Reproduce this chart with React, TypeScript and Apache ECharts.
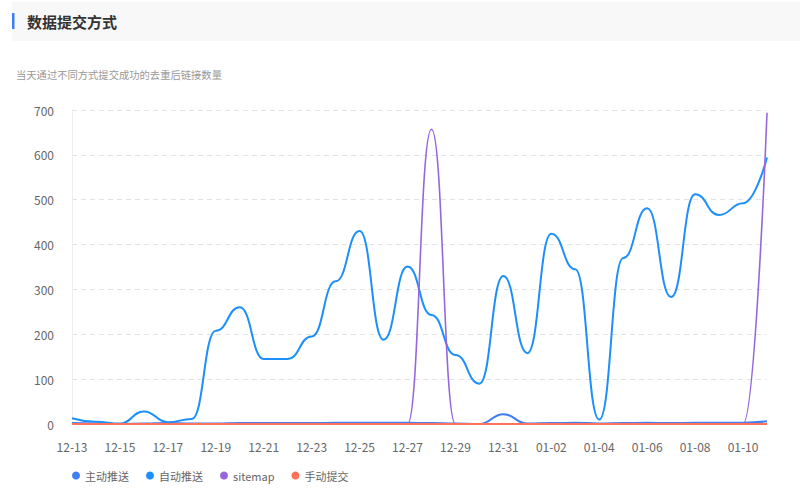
import React, { useEffect, useRef } from "react";
import * as echarts from "echarts";

const dates = [
  "12-13", "12-14", "12-15", "12-16", "12-17", "12-18", "12-19", "12-20", "12-21", "12-22",
  "12-23", "12-24", "12-25", "12-26", "12-27", "12-28", "12-29", "12-30", "12-31", "01-01",
  "01-02", "01-03", "01-04", "01-05", "01-06", "01-07", "01-08", "01-09", "01-10", "01-11",
];
const activePush = [2, 1, 0, 1, 2, 1, 1, 2, 2, 2, 2, 3, 3, 3, 3, 2, 1, 0, 22, 1, 2, 3, 1, 2, 3, 2, 3, 3, 3, 6];
const autoPush = [13, 5, 1, 28, 4, 11, 208, 260, 145, 145, 195, 318, 430, 188, 351, 243, 154, 90, 330, 158, 424, 345, 10, 370, 481, 283, 512, 466, 492, 594];
const sitemap = [0, 0, 0, 0, 0, 0, 0, 0, 0, 0, 0, 0, 0, 0, 0, 657, 0, 0, 0, 0, 0, 0, 0, 0, 0, 0, 0, 0, 0, 694];
const manual = [0, 0, 0, 0, 0, 0, 0, 0, 0, 0, 0, 0, 0, 0, 0, 0, 0, 0, 0, 0, 0, 0, 0, 0, 0, 0, 0, 0, 0, 0];
const seriesNames = ["主动推送", "自动推送", "sitemap", "手动提交"];
const colors = ["#3f7ff3", "#1c8ffa", "#9468dc", "#ff7158"];

const FONT = '"Noto Sans CJK SC", "Noto Sans", sans-serif';

export default function App() {
  const ref = useRef<HTMLDivElement>(null);
  useEffect(() => {
    if (!ref.current) return;
    const chart = echarts.init(ref.current, undefined, { renderer: "svg" });
    const values = [activePush, autoPush, sitemap, manual];
    chart.setOption({
      animation: false,
      backgroundColor: "#ffffff",
      textStyle: { fontFamily: FONT },
      graphic: [
        { type: "rect", left: 12, top: 2, shape: { width: 788, height: 39 }, style: { fill: "#f8f8f8" } },
        { type: "rect", left: 12, top: 13, shape: { width: 2.5, height: 16 }, style: { fill: "#3d7ef5" } },
        {
          type: "text", left: 27, top: 14,
          style: { text: "数据提交方式", fill: "#333333", font: `bold 15px ${FONT}` },
        },
        {
          type: "text", left: 16, top: 69,
          style: { text: "当天通过不同方式提交成功的去重后链接数量", fill: "#999999", font: `10.3px ${FONT}` },
        },
      ],
      color: colors,
      legend: {
        left: 67,
        top: 465,
        icon: "circle",
        itemWidth: 8,
        itemHeight: 8,
        itemGap: 17,
        data: seriesNames,
        textStyle: { color: "#666666", fontSize: 11, fontFamily: FONT },
      },
      grid: { left: 72, right: 33, top: 110, bottom: 67 },
      xAxis: {
        type: "category",
        boundaryGap: false,
        data: dates,
        axisLine: { show: true, lineStyle: { color: "#eeeeee" } },
        axisTick: { show: false },
        axisLabel: { interval: 1, color: "#666666", fontSize: 12, margin: 16, fontFamily: FONT },
      },
      yAxis: {
        type: "value",
        min: 0,
        max: 700,
        interval: 100,
        axisLine: { show: true, lineStyle: { color: "#eeeeee" } },
        axisTick: { show: false },
        axisLabel: { color: "#666666", fontSize: 12, margin: 18, fontFamily: FONT },
        splitLine: { show: true, lineStyle: { color: "#e3e3e3", type: [5, 4] } },
      },
      series: seriesNames.map((name, i) => ({
        name,
        type: "line",
        smooth: true,
        smoothMonotone: "x",
        showSymbol: false,
        symbol: "circle",
        data: values[i],
        lineStyle: { width: i === 2 ? 1.6 : 2, color: colors[i] },
        itemStyle: { color: colors[i] },
      })),
    });
    return () => chart.dispose();
  }, []);
  return (
    <div
      ref={ref}
      style={{ position: "fixed", left: 0, top: 0, width: 800, height: 491 }}
    />
  );
}
